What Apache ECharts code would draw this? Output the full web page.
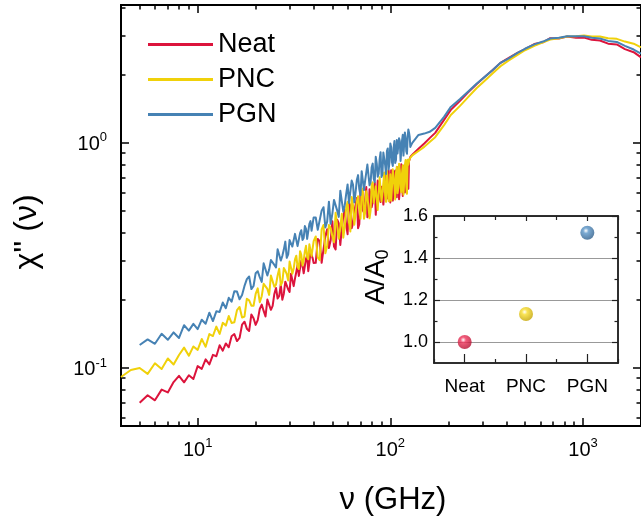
<!DOCTYPE html>
<html><head><meta charset="utf-8">
<script src="https://cdn.jsdelivr.net/npm/echarts@6/dist/echarts.min.js"></script>
<style>html,body{margin:0;padding:0;background:#fff}#c{width:641px;height:519px}</style>
</head><body><div id="c"></div>
<script>
// ---------- data ----------
const seriesNames = ['Neat', 'PNC', 'PGN'];
const xRange = [4, 2000];        // GHz
const yRange = [0.0552, 4.1];    // chi''
const xTickExp = [1, 2, 3];
const yTickExp = [-1, 0];

const freqNoisy = [4,4.5,5,5.5,6,6.5,7,7.5,8,8.5,9,9.5,10,10.5,11,11.5,12,12.5,13,13.5,14,14.5,15,
  16,17,18,19,20,21,22,23,24,25,26,27,28,29,30,31,32,33,34,35,36,37,38,39,40,
  42,44,46,48,50,52,54,56,58,60,62,64,66,68,70,72,74,76,78,80,82,84,86,88,90,92,94,96,98,100,
  102,104,106,108,110,112,114,116,118,120,122,124,126];
const neatNoisy = [null,null,0.070,0.0756,0.0718,0.0801,0.0778,0.0865,0.0922,0.0863,0.0928,0.0893,0.1019,0.0990,0.1092,0.1037,0.1143,0.1127,0.1261,0.1193,0.1285,0.1235,0.1383,
  0.1316,0.1558,0.1494,0.1728,0.1553,0.1827,0.1792,0.2012,0.1812,0.2132,0.2035,0.2354,0.2138,0.2390,0.2175,0.2618,0.2499,0.2867,0.2547,0.2846,0.2669,0.3157,0.2939,0.3255,0.2926,
  0.374,0.293,0.386,0.341,0.449,0.336,0.439,0.415,0.504,0.393,0.525,0.438,0.530,0.418,0.606,0.501,0.560,0.467,0.623,0.517,0.620,0.479,0.681,0.573,0.638,0.532,0.686,0.565,0.754,0.544,
  0.698,0.617,0.754,0.574,0.741,0.620,0.803,0.581,0.744,0.670,0.791,0.626,0.846];
const pncNoisy = [0.0911,0.0979,0.0999,0.0941,0.1049,0.0989,0.1102,0.1036,0.1142,0.1231,0.1133,0.1246,0.1203,0.1344,0.1241,0.1414,0.1386,0.1526,0.1416,0.1586,0.1542,0.1701,0.1584,
  0.1806,0.1674,0.2030,0.1891,0.2132,0.1960,0.2365,0.2244,0.2572,0.2294,0.2575,0.2330,0.2777,0.2609,0.2970,0.2623,0.3035,0.2812,0.3303,0.2852,0.3297,0.3110,0.3542,0.3143,0.3657,
  0.310,0.413,0.323,0.432,0.385,0.489,0.375,0.484,0.423,0.548,0.404,0.530,0.484,0.579,0.460,0.627,0.492,0.580,0.462,0.652,0.542,0.641,0.503,0.703,0.549,0.665,0.582,0.753,0.550,0.725,
  0.637,0.706,0.561,0.783,0.628,0.755,0.603,0.796,0.672,0.839,0.594,0.800,0.852];
const pgnNoisy = [null,null,0.1264,0.1339,0.1280,0.1418,0.1334,0.1438,0.1359,0.1548,0.1465,0.1570,0.1488,0.1638,0.1571,0.1760,0.1615,0.1785,0.1774,0.1953,0.1843,0.2049,0.1969,
  0.2184,0.2109,0.2482,0.2241,0.2636,0.2532,0.2916,0.2576,0.3016,0.2870,0.3368,0.2999,0.3356,0.3085,0.3699,0.3463,0.3942,0.3478,0.3973,0.3705,0.4269,0.3744,0.4368,0.4070,0.4666,
  0.411,0.500,0.421,0.548,0.484,0.555,0.469,0.609,0.529,0.654,0.537,0.653,0.603,0.719,0.585,0.743,0.680,0.801,0.648,0.780,0.693,0.867,0.707,0.846,0.705,0.906,0.796,0.920,0.762,0.994,
  0.821,0.949,0.815,1.030,0.884,1.017,0.835,1.086,0.892,1.049,0.894,1.147,1.066];

// extra in-between samples of the noisy part (denser band)
const freqExtra = [15.5,16.5,17.5,18.5,19.5,20.5,21.5,22.5,23.5,24.5,25.5,26.5,27.5,28.5,29.5,30.5,31.5,32.5,33.5,34.5,35.5,36.5,37.5,38.5,39.5,
  41,43,45,47,49,51,53,55,57,59,61,63,65,67,69,71,73,75,77,79,81,83,85,87,89,91,93,95,97,99,101,103,105,107,109,111,113,115,117,119,121,123,125];
const neatExtra = [0.1414,0.1359,0.1605,0.1460,0.1663,0.1632,0.1912,0.1693,0.2016,0.1889,0.2267,0.2086,0.2011,0.2417,0.2233,0.2624,0.2309,0.2668,0.2563,0.2998,0.2632,0.3056,0.2691,0.3274,0.3077,
  0.293,0.366,0.296,0.413,0.368,0.346,0.456,0.352,0.473,0.429,0.542,0.418,0.494,0.569,0.435,0.573,0.490,0.637,0.477,0.583,0.545,0.666,0.483,0.661,0.546,0.648,0.529,0.716,0.588,0.634,
  0.755,0.554,0.730,0.599,0.780,0.562,0.736,0.671,0.792,0.602,0.774,0.654,0.829];
const pncExtra = [0.1596,0.1866,0.1693,0.1997,0.1889,0.2257,0.2083,0.2318,0.2111,0.2568,0.2347,0.2758,0.2409,0.2703,0.2448,0.2947,0.2765,0.3154,0.2751,0.3182,0.3005,0.3488,0.3041,0.3507,0.3103,
  0.384,0.301,0.432,0.348,0.419,0.362,0.488,0.422,0.379,0.516,0.445,0.575,0.433,0.546,0.515,0.610,0.460,0.609,0.521,0.501,0.668,0.534,0.639,0.494,0.689,0.597,0.739,0.547,0.679,0.587,
  0.553,0.763,0.640,0.737,0.597,0.808,0.644,0.735,0.589,0.799,0.643,0.842,0.826];
const pgnExtra = [0.2194,0.2018,0.2315,0.2549,0.2312,0.2688,0.2412,0.2943,0.2736,0.3028,0.2797,0.3328,0.3143,0.3641,0.3199,0.3671,0.3430,0.3985,0.3478,0.4092,0.3782,0.4151,0.3740,0.4494,0.4023,
  0.466,0.405,0.518,0.447,0.437,0.558,0.500,0.613,0.495,0.594,0.541,0.680,0.544,0.684,0.623,0.749,0.617,0.694,0.816,0.669,0.809,0.668,0.811,0.729,0.909,0.727,0.848,0.727,0.945,0.821,
  0.957,0.790,1.019,0.839,0.897,1.049,0.831,1.023,0.878,1.113,0.918,1.061,1.112];

const freqSmooth = [127,130,140,150,160,171,190,206,230,252,280,309,340,373,410,457,500,559,620,676,750,828,920,1012,1110,1224,1350,1497,1650,1832,2000];
const neatSmooth = [0.866,0.886,0.942,0.994,1.05,1.108,1.265,1.402,1.537,1.668,1.82,1.965,2.11,2.268,2.379,2.512,2.61,2.75,2.80,2.92,2.91,2.97,2.93,2.94,2.87,2.85,2.76,2.74,2.61,2.53,2.40];
const pncSmooth  = [0.866,0.88,0.92,0.96,1.01,1.06,1.20,1.33,1.46,1.59,1.75,1.89,2.04,2.19,2.32,2.46,2.58,2.70,2.80,2.88,2.92,2.97,2.98,3.00,2.97,2.97,2.92,2.90,2.82,2.76,2.66];
const pgnSmooth  = [0.96,1.0,1.085,1.10,1.12,1.166,1.305,1.445,1.568,1.685,1.83,1.965,2.11,2.27,2.37,2.51,2.62,2.74,2.82,2.91,2.93,2.98,2.98,2.98,2.93,2.91,2.84,2.81,2.70,2.60,2.49];

// inset
const insetCategories = ['Neat', 'PNC', 'PGN'];
const insetValues = [1.0, 1.133, 1.52];
const insetRange = [0.9, 1.6];
const insetMajorTicks = [1.0, 1.2, 1.4, 1.6];
const insetMinorTicks = [1.1, 1.3, 1.5];

// ---------- build ----------
const FONT = '"Liberation Sans", Arial, Helvetica, sans-serif';
const L = Math.log10;
const colors = ['#dc143c', '#f0d10a', '#4682b4'];
const sphereCols = [['#f0335a', '#b50f30'], ['#f7dc2a', '#c4a400'], ['#5a95c8', '#2c5d8a']];

function pairs(fs, vs) {
  const out = [];
  const n = Math.min(fs.length, vs.length);
  for (let i = 0; i < n; i++) if (vs[i] != null) out.push([fs[i], vs[i]]);
  return out;
}
function toLog(list) {
  return list.sort((a, b) => a[0] - b[0]).map(p => [L(p[0]), L(p[1])]);
}
function minorLogs(lo, hi) {
  const out = [];
  for (let n = Math.floor(L(lo)); n <= Math.ceil(L(hi)); n++)
    for (let k = 2; k <= 9; k++) { const v = k * Math.pow(10, n); if (v > lo && v < hi) out.push(L(v)); }
  return out;
}
const xMinor = minorLogs(xRange[0], xRange[1]);
const yMinor = minorLogs(yRange[0], yRange[1]);
const rich = {
  b: {fontSize: 20, lineHeight: 23, fontFamily: FONT, color: '#000', verticalAlign: 'bottom'},
  s: {fontSize: 13, lineHeight: 13, fontFamily: FONT, color: '#000', verticalAlign: 'top'}
};
const expLabel = v => '{b|10}{s|' + Math.round(v) + '}';

function mainAxis(dim, pos, major, label) {
  const isX = dim === 'x';
  return {
    type: 'value', gridIndex: 0, position: pos,
    min: isX ? L(xRange[0]) : L(yRange[0]),
    max: isX ? L(xRange[1]) : L(yRange[1]),
    axisLine: {show: true, onZero: false, lineStyle: {color: '#000', width: 2}},
    axisTick: {show: true, inside: true, length: major ? 8 : 4.5, lineStyle: {color: '#000', width: 1.5},
      customValues: major ? (isX ? xTickExp : yTickExp) : (isX ? xMinor : yMinor)},
    axisLabel: {show: label, customValues: isX ? xTickExp : yTickExp, formatter: expLabel,
      margin: isX ? 11 : 14, rich: rich},
    splitLine: {show: false}
  };
}
function insetX(pos, major, label) {
  return {
    type: 'category', gridIndex: 1, position: pos, data: insetCategories, boundaryGap: true,
    axisLine: {show: true, onZero: false, lineStyle: {color: '#222', width: 1.5}},
    axisTick: {show: true, inside: true, alignWithLabel: major, length: major ? (pos === 'bottom' ? 9 : 5) : 4,
      lineStyle: {color: '#222', width: 1.2}},
    axisLabel: {show: label, fontSize: 19, fontFamily: FONT, color: '#000', margin: 14},
    splitLine: {show: false}
  };
}
function insetY(pos, major, label) {
  return {
    type: 'value', gridIndex: 1, position: pos, min: insetRange[0], max: insetRange[1],
    axisLine: {show: true, onZero: false, lineStyle: {color: '#222', width: 1.5}},
    axisTick: {show: true, inside: true, length: major ? 6 : 3.5, lineStyle: {color: '#222', width: 1.2},
      customValues: major ? insetMajorTicks : insetMinorTicks},
    axisLabel: {show: label, customValues: insetMajorTicks, formatter: v => v.toFixed(1),
      fontSize: 18, fontFamily: FONT, color: '#000', margin: 6},
    splitLine: {show: major && pos === 'left', lineStyle: {color: '#999', width: 1}}
  };
}

const lineSeries = [
  [neatNoisy, neatExtra, neatSmooth], [pncNoisy, pncExtra, pncSmooth], [pgnNoisy, pgnExtra, pgnSmooth]
].map((arr, i) => ({
  name: seriesNames[i], type: 'line', xAxisIndex: 0, yAxisIndex: 0,
  data: toLog(pairs(freqNoisy, arr[0]).concat(pairs(freqExtra, arr[1]), pairs(freqSmooth, arr[2]))),
  showSymbol: false, symbol: 'none', color: colors[i],
  lineStyle: {color: colors[i], width: 2, join: 'round'}, z: 2 + i
}));

const insetSeries = {
  name: 'A/A0', type: 'scatter', xAxisIndex: 4, yAxisIndex: 4, symbolSize: 14, z: 10,
  data: insetValues.map((v, i) => ({
    value: v,
    itemStyle: {color: {type: 'radial', x: 0.4, y: 0.35, r: 0.65,
      colorStops: [{offset: 0, color: '#ffffff'}, {offset: 0.3, color: sphereCols[i][0]}, {offset: 1, color: sphereCols[i][1]}]}}
  }))
};

const option = {
  animation: false,
  backgroundColor: '#fff',
  grid: [
    {left: 121, top: 5, right: -3, bottom: 93},
    {left: 434, top: 216, width: 184, height: 147}
  ],
  legend: {
    orient: 'vertical', left: 143, top: 26, itemWidth: 65, itemHeight: 3, itemGap: 8, icon: 'rect',
    data: seriesNames,
    textStyle: {fontSize: 27, lineHeight: 27, fontFamily: FONT, color: '#000'}
  },
  xAxis: [
    mainAxis('x', 'bottom', true, true), mainAxis('x', 'bottom', false, false),
    mainAxis('x', 'top', true, false), mainAxis('x', 'top', false, false),
    insetX('bottom', true, true), insetX('bottom', false, false),
    insetX('top', true, false), insetX('top', false, false)
  ],
  yAxis: [
    mainAxis('y', 'left', true, true), mainAxis('y', 'left', false, false),
    mainAxis('y', 'right', true, false), mainAxis('y', 'right', false, false),
    insetY('left', true, true), insetY('left', false, false),
    insetY('right', true, false), insetY('right', false, false)
  ],
  graphic: [
    {type: 'text', x: 393, y: 500, z: 20,
      style: {text: 'ν (GHz)', font: '31px ' + FONT, fill: '#000', textAlign: 'center', textVerticalAlign: 'middle', align: 'center', verticalAlign: 'middle'}},
    {type: 'text', x: 27, y: 232, rotation: Math.PI / 2, z: 20,
      style: {text: "χ'' (ν)", font: '32px ' + FONT, fill: '#000', textAlign: 'center', textVerticalAlign: 'middle', align: 'center', verticalAlign: 'middle'}},
    {type: 'text', x: 377, y: 277, rotation: Math.PI / 2, z: 20,
      style: {text: '{a|A/A}{s|0}', textAlign: 'center', textVerticalAlign: 'middle', align: 'center', verticalAlign: 'middle',
        rich: {a: {fontSize: 28, lineHeight: 30, fontFamily: FONT, fill: '#000', verticalAlign: 'top'},
               s: {fontSize: 18, lineHeight: 14, padding: [24, 0, 0, 0], fontFamily: FONT, fill: '#000', verticalAlign: 'bottom'}}}}
  ],
  series: lineSeries.concat([insetSeries])
};

const chart = echarts.init(document.getElementById('c'), null, {renderer: 'canvas'});
chart.setOption(option);
</script></body></html>
